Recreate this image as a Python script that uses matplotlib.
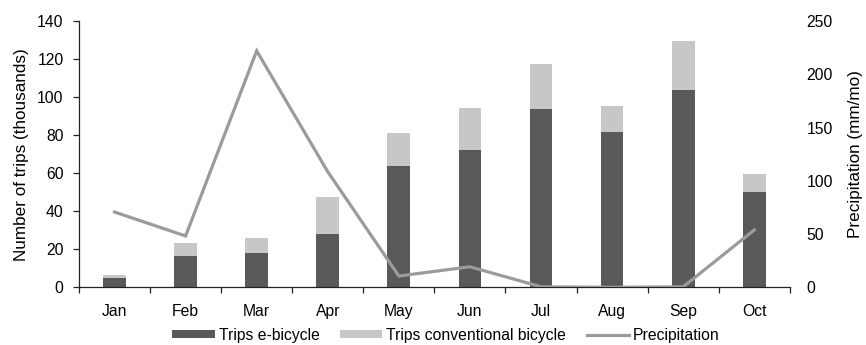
import matplotlib
matplotlib.use("Agg")
import matplotlib.pyplot as plt
import numpy as np
from matplotlib.ticker import FixedLocator, NullFormatter, FixedFormatter

plt.rcParams['font.family'] = ['Liberation Sans', 'DejaVu Sans']

months = ["Jan", "Feb", "Mar", "Apr", "May", "Jun", "Jul", "Aug", "Sep", "Oct"]
trips_ebike = [5.0, 16.5, 18.0, 28.0, 63.9, 72.2, 93.7, 81.6, 103.7, 50.1]
trips_total = [6.5, 23.3, 25.9, 47.5, 81.1, 94.3, 117.4, 95.3, 129.5, 59.6]
trips_conventional = [t - e for t, e in zip(trips_total, trips_ebike)]
precipitation = [70.7, 48.2, 222.0, 108.5, 10.6, 19.3, 0.5, 0.0, 0.5, 53.8]

dark = "#58595b"
light = "#c6c7c8"
line_col = "#9b9b9c"
fs = 11.3

fig = plt.figure(figsize=(8.66, 3.45), dpi=100)
ax = fig.add_axes([0.0912, 0.1672, 0.8208, 0.7718])
ax2 = ax.twinx()

x = np.arange(len(months)) + 0.5
w = 0.32
b1 = ax.bar(x, trips_ebike, width=w, color=dark, label="Trips e-bicycle", zorder=2)
b2 = ax.bar(x, trips_conventional, width=w, bottom=trips_ebike, color=light,
            label="Trips conventional bicycle", zorder=2)
ln, = ax2.plot(x, precipitation, color=line_col, lw=2.3, solid_joinstyle="miter",
               label="Precipitation")

ax.set_xlim(0, len(months))
ax.set_ylim(0, 140)
ax2.set_ylim(0, 250)
ax.set_yticks(np.arange(0, 141, 20))
ax2.set_yticks(np.arange(0, 251, 50))

# month boundaries carry the tick marks, labels sit at centres
ax.xaxis.set_major_locator(FixedLocator(np.arange(0, len(months) + 1)))
ax.xaxis.set_major_formatter(NullFormatter())
ax.xaxis.set_minor_locator(FixedLocator(x))
ax.xaxis.set_minor_formatter(FixedFormatter(months))
ax.tick_params(axis="x", which="minor", length=0, pad=12, labelsize=fs)
ax.tick_params(axis="x", which="major", length=4, width=0.9, color="#222222")
ax.tick_params(axis="y", length=4, width=0.9, labelsize=fs, pad=7, color="#222222")
ax2.tick_params(axis="y", length=0, labelsize=fs, pad=12)

for a in (ax, ax2):
    a.spines["top"].set_visible(False)
    a.spines["right"].set_visible(False)
ax2.spines["left"].set_visible(False)
ax2.spines["bottom"].set_visible(False)
ax.spines["left"].set_linewidth(0.9)
ax.spines["bottom"].set_linewidth(0.9)
ax.spines["left"].set_color("#222222")
ax.spines["bottom"].set_color("#222222")

ax.set_ylabel("Number of trips (thousands)", fontsize=12.3, labelpad=6)
ax2.set_ylabel("Precipitation (mm/mo)", fontsize=12.3, labelpad=11)

fig.legend([b1, b2, ln], ["Trips e-bicycle", "Trips conventional bicycle", "Precipitation"],
           loc="lower center", bbox_to_anchor=(0.515, -0.035), ncol=3, frameon=False,
           fontsize=fs, handlelength=2.7, handleheight=0.42, columnspacing=1.3,
           handletextpad=0.25)

fig.savefig("out.png", dpi=100)
